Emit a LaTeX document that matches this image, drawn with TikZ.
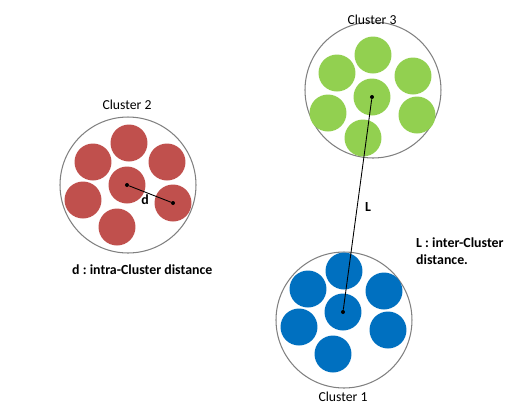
\documentclass[tikz,border=0pt]{standalone}
\usepackage{fontspec}
\setmainfont{Carlito}
\usepackage{xcolor}
\usetikzlibrary{positioning}
\frenchspacing

\definecolor{clred}{HTML}{C0504D}
\definecolor{clgreen}{HTML}{92D050}
\definecolor{clblue}{HTML}{0070C0}

\begin{document}
\begin{tikzpicture}[
    x=0.02cm, y=-0.02cm,
    cluster/.style={circle, draw=gray, line width=0.6pt, minimum size=2.72cm, inner sep=0},
    member/.style={circle, minimum size=0.74cm, inner sep=0},
    dot/.style={circle, fill=black, minimum size=0.08cm, inner sep=0},
    label/.style={font=\fontsize{7.8}{9.6}\selectfont},
    note/.style={font=\fontsize{7.9}{9.6}\selectfont\bfseries, align=left},
    link/.style={black, line width=0.5pt}
]
\useasboundingbox (0,0) rectangle (512,407);

% Cluster 2
\node[cluster] (cl2) at (128,185) {};
\node[member, fill=clred] (r0) at (127,185) {};
\node[member, fill=clred] (r1) at (129,143) {};
\node[member, fill=clred] (r2) at (93,162) {};
\node[member, fill=clred] (r3) at (167,162) {};
\node[member, fill=clred] (r4) at (83,200) {};
\node[member, fill=clred] (r5) at (173,203) {};
\node[member, fill=clred] (r6) at (117,227) {};
\node[label] (t2) at (127,105) {Cluster 2};

% Cluster 3
\node[cluster] (cl3) at (373,90) {};
\node[member, fill=clgreen] (g0) at (372,97) {};
\node[member, fill=clgreen] (g1) at (373,55) {};
\node[member, fill=clgreen] (g2) at (337,73) {};
\node[member, fill=clgreen] (g3) at (413,76) {};
\node[member, fill=clgreen] (g4) at (328,113) {};
\node[member, fill=clgreen] (g5) at (417,115) {};
\node[member, fill=clgreen] (g6) at (363,138) {};
\node[label] (t3) at (372,20) {Cluster 3};

% Cluster 1
\node[cluster] (cl1) at (344,320) {};
\node[member, fill=clblue] (b0) at (343,312) {};
\node[member, fill=clblue] (b1) at (344,271) {};
\node[member, fill=clblue] (b2) at (308,289) {};
\node[member, fill=clblue] (b3) at (384,291) {};
\node[member, fill=clblue] (b4) at (299,327) {};
\node[member, fill=clblue] (b5) at (388,330) {};
\node[member, fill=clblue] (b6) at (333,354) {};
\node[label] (t1) at (343,397) {Cluster 1};

% Distances
\node[dot] (dr0) at (r0) {};
\node[dot] (dr5) at (r5) {};
\node[dot] (dg0) at (g0) {};
\node[dot] (db0) at (b0) {};
\draw[link] (dr0) -- (dr5);
\draw[link] (dg0) -- (db0);
\node[note] (d) at (145,200) {d};
\node[note] (L) at (368,207) {L};

% Notes
\node[note, anchor=west] (intra) at (66,270) {d : intra-Cluster distance};
\node[note, anchor=north west] (inter) at (410,232) {L : inter-Cluster\\distance.};
\end{tikzpicture}
\end{document}
